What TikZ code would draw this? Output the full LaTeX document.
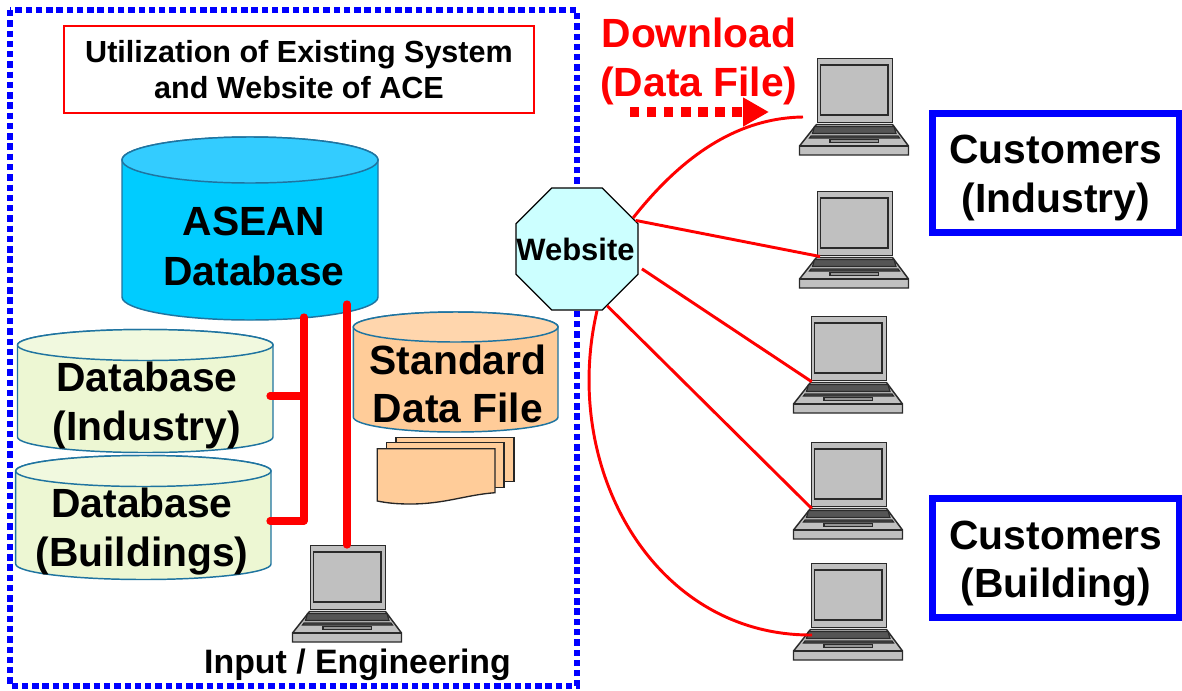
\documentclass[tikz,border=0pt]{standalone}
\usepackage{fontspec}
\setmainfont{Liberation Sans}
\usetikzlibrary{shapes.geometric,arrows.meta}
\definecolor{cylline}{HTML}{1F74A0}
\definecolor{blueA}{HTML}{00CCFF}\definecolor{blueB}{HTML}{33CCFF}
\definecolor{orA}{HTML}{FFCC99}\definecolor{orB}{HTML}{FFD6AD}
\definecolor{grA}{HTML}{EDF7D3}\definecolor{grB}{HTML}{F1F9DF}
\definecolor{webfill}{HTML}{CCFFFF}
\definecolor{lapgray}{HTML}{C0C0C0}
\definecolor{lapdark}{HTML}{2A2A2A}
\definecolor{lapkey}{HTML}{555555}
\newcommand{\cyl}[8]{% x1 x2 ytop(centre) ybot(centre) ry fillbody filltop name
  \path[draw=cylline,line width=1.1pt,fill=#6] (#1,#3) -- (#1,#4)
     arc[start angle=180,end angle=360,x radius={(#2-#1)/2*0.75pt},y radius={#5*0.75pt}]
     -- (#2,#3) arc[start angle=0,end angle=180,x radius={(#2-#1)/2*0.75pt},y radius={#5*0.75pt}] -- cycle;
  \path[draw=cylline,line width=1.1pt,fill=#7] (#1,#3)
     arc[start angle=180,end angle=540,x radius={(#2-#1)/2*0.75pt},y radius={#5*0.75pt}];
  \coordinate (#8) at ({(#1+#2)/2},{(#3+#4)/2});
}
\tikzset{
  x=0.75pt,y=-0.75pt,
  big/.style={font=\fontsize{30.6}{36.6}\selectfont\bfseries,align=center,inner sep=0pt},
  redlink/.style={draw=red,line width=2.2pt},
  redbar/.style={draw=red,line width=5.4pt,line cap=round,line join=round},
  custbox/.style={draw=blue,line width=5.2pt},
  doc/.style={draw=black!85,line width=1pt,fill=orA},
  lapshape/.style={draw=lapdark,line width=1.1pt,fill=lapgray},
  laptop/.pic={
    \path[lapshape] (-0.5,66.5) -- (75.5,66.5) -- (91.5,88) -- (91.5,97) -- (-17.5,97) -- (-17.5,88) -- cycle;
    \draw[draw=lapdark,line width=1.1pt] (-17.5,88) -- (91.5,88);
    \path[draw=lapdark,line width=0.9pt,fill=lapkey] (-2.5,68.5) -- (77,68.5) -- (79,75.5) -- (-4.5,75.5) -- cycle;
    \path[draw=lapdark,line width=0.9pt,fill=lapkey] (-6,78) -- (81,78) -- (82.5,80) -- (-7.5,80) -- cycle;
    \path[draw=lapdark,line width=0.8pt,fill=lapgray!60!lapkey] (13,81.7) rectangle (61.5,84.7);
    \node[lapshape,anchor=north west,minimum width=56.25pt,minimum height=48pt,inner sep=0pt] (-scr) at (0,0) {};
    \path[lapshape] (3.7,7) rectangle (71,57);
  }
}
\begin{document}
\begin{tikzpicture}
\useasboundingbox (0,0) rectangle (1182,690);
% dotted frame
\coordinate (fa) at (10,10);
\coordinate (fb) at (577,686);
\draw[blue,line width=4.8pt,dash pattern=on 4.8pt off 2.9pt] (fa) rectangle (fb);
% title
\node[draw=red,line width=1.1pt,minimum width=352.5pt,minimum height=65.25pt,fill=white,
      font=\fontsize{22.9}{27.4}\selectfont\bfseries,align=center,inner sep=0pt] (title) at (299,69.5)
  {Utilization of Existing System\\and Website of ACE};
% databases
\cyl{122}{378}{160}{297}{23}{blueA}{blueB}{cA}
\cyl{353.3}{558}{327}{417}{15}{orA}{orB}{cS}
\cyl{17.5}{273}{345}{437}{15.5}{grA}{grB}{cI}
\cyl{15.7}{271}{471}{564}{15.5}{grA}{grB}{cB}
\node[big,font=\fontsize{30.6}{37.8}\selectfont\bfseries] (asean) at (254,246.5) {ASEAN\\Database};
\node[big] (std) at (458,384) {Standard\\Data File};
\node[big] (ind) at (147,405.5) {Database\\(Industry)};
\node[big] (bld) at (142,531.5) {Database\\(Buildings)};
% stacked documents
\path[doc] (396,437.7) rectangle (514,481.7);
\path[doc] (386.7,442.7) rectangle (504,487.7);
\path[doc] (377.3,448.7) -- (495,448.7) -- (495,492.7)
  .. controls (465,495) and (445,504) .. (410,504)
  .. controls (397,504) and (387,503) .. (377.3,501) -- cycle;
% laptops
\pic (L1) at (817,58) {laptop};
\pic (L2) at (817,191) {laptop};
\pic (L3) at (811,316) {laptop};
\pic (L4) at (811,442) {laptop};
\pic (L5) at (811,563) {laptop};
\pic (L0) at (310,545) {laptop};
% internal links
\coordinate (j1) at (304,396);
\coordinate (j2) at (304,521);
\coordinate (s1) at (304,317);
\coordinate (s2) at (347,304);
\coordinate (e1) at (270,396);
\coordinate (e2) at (270,521);
\draw[redbar] (s1) -- (j2) -- (e2);
\draw[redbar] (e1) -- (j1);
\draw[draw=red,line width=5.4pt,line cap=round] (s2) -- (L0-scr.north -| s2);
% website
\node[regular polygon,regular polygon sides=8,draw=black,line width=1pt,fill=webfill,
      minimum size=99pt,inner sep=0pt] (web) at (577,249) {};
\node[font=\fontsize{23.2}{27}\selectfont\bfseries,inner sep=0pt] (webt) at (575.5,249) {Website};
% external links
\coordinate (t1) at (803,117);
\coordinate (t2) at (820,256.5);
\coordinate (t3) at (811.7,381.7);
\coordinate (t4) at (811.7,508.5);
\coordinate (t5) at (812,635);
\draw[redlink] (web.29) .. controls (675,165) and (730,118) .. (t1);
\draw[redlink] (web.26) -- (t2);
\draw[redlink,shorten <=3pt] (web.-16) -- (t3);
\draw[redlink] (web.-62) -- (t4);
\draw[redlink] (web.-72) .. controls (560,470) and (655,636) .. (t5);
% download
\node[big,text=red] (dl) at (699,61.5) {Download\\(Data File)};
\coordinate (da) at (630,112);
\coordinate (db) at (769,112);
\draw[red,line width=7.5pt,dash pattern=on 7pt off 5.8pt,-{Triangle[length=19.5pt,width=20.5pt]}] (da) -- (db);
% customers
\node[custbox,minimum width=185.5pt,minimum height=89.5pt,inner sep=0pt] (cu1) at (1056,173) {};
\node[big] (cu1t) at (1056,178) {Customers\\(Industry)};
\node[custbox,minimum width=185.5pt,minimum height=89.5pt,inner sep=0pt] (cu2) at (1056,558) {};
\node[big] (cu2t) at (1056,563.5) {Customers\\(Building)};
\node[font=\fontsize{25.4}{30}\selectfont\bfseries,inner sep=0pt] (inp) at (357.5,665) {Input / Engineering};
\end{tikzpicture}
\end{document}
